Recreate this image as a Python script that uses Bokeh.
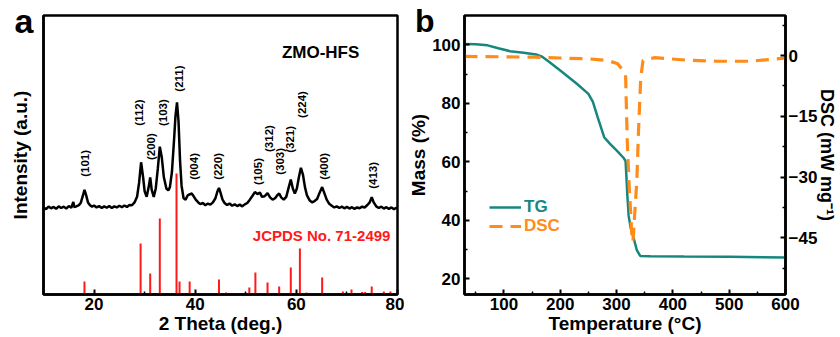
from math import pi
from bokeh.plotting import figure
from bokeh.models import Range1d, LinearAxis, FixedTicker, Label, Legend, LegendItem
from bokeh.layouts import row
from bokeh.embed import file_html
from bokeh.resources import INLINE
from bokeh.core.properties import value

# ---------------- data: panel a (XRD) ----------------
xrd_2theta = [10.0, 10.5, 11.0, 11.5, 12.0, 12.5, 13.0, 13.5, 14.0, 14.5, 15.0, 15.5, 15.9, 16.1,
              16.5, 17.0, 17.4, 17.8, 18.1, 18.4, 18.8, 19.2, 19.6, 20.0, 20.5, 21.0, 21.5, 22.0,
              22.5, 23.0, 23.5, 24.0, 24.5, 25.0, 25.5, 26.0, 26.5, 27.0, 27.5, 28.0, 28.5, 28.9,
              29.3, 29.7, 30.0, 30.4, 30.8, 31.1, 31.4, 31.8, 32.2, 32.6, 33.0, 33.4, 33.8, 34.3,
              34.7, 35.0, 35.4, 35.8, 36.1, 36.4, 36.7, 37.0, 37.3, 37.7, 38.1, 38.5, 39.0, 39.3,
              39.7, 40.1, 40.6, 41.0, 41.5, 42.0, 42.5, 43.0, 43.5, 44.0, 44.4, 44.7, 45.0, 45.4,
              45.8, 46.3, 46.8, 47.3, 47.8, 48.3, 48.8, 49.3, 49.8, 50.3, 50.8, 51.3, 51.8, 52.3,
              52.8, 53.2, 53.7, 54.3, 54.8, 55.3, 55.8, 56.2, 56.6, 57.0, 57.5, 58.0, 58.5, 58.9,
              59.3, 59.7, 60.1, 60.5, 60.9, 61.3, 61.7, 62.1, 62.6, 63.1, 63.6, 64.1, 64.6, 65.1,
              65.5, 66.0, 66.5, 67.0, 67.5, 68.0, 68.5, 69.0, 69.5, 70.0, 70.5, 71.0, 71.5, 72.0,
              72.5, 73.0, 73.5, 74.0, 74.5, 74.9, 75.3, 75.8, 76.3, 76.8, 77.3, 77.8, 78.3, 78.8,
              79.3, 79.8, 80.0]
xrd_intensity = [31.2, 30.6, 31.5, 30.9, 31.4, 30.7, 31.6, 31.0, 31.5, 30.8, 31.7, 31.1, 33.2, 31.3,
                 31.6, 32.0, 33.0, 35.5, 37.5, 35.8, 33.0, 32.0, 31.5, 31.9, 31.2, 31.7, 31.0, 31.6,
                 31.1, 31.7, 31.0, 31.6, 31.2, 31.8, 31.3, 31.9, 31.4, 32.1, 32.0, 33.0, 35.0, 40.0,
                 47.4, 42.0, 37.0, 35.0, 38.5, 42.0, 37.5, 35.0, 38.0, 45.0, 53.0, 49.0, 42.0, 38.0,
                 37.3, 38.5, 44.0, 55.0, 64.0, 68.9, 62.0, 48.0, 39.0, 34.5, 34.0, 35.5, 36.0, 36.2,
                 35.2, 34.0, 33.0, 32.4, 32.8, 32.0, 32.6, 32.2, 33.0, 34.5, 37.0, 38.2, 36.5, 34.0,
                 32.8, 32.1, 32.6, 31.8, 32.3, 31.7, 32.2, 31.6, 32.3, 32.8, 34.0, 35.3, 36.7, 36.0,
                 36.5, 35.0, 35.2, 36.3, 34.8, 34.0, 34.5, 35.5, 36.2, 34.8, 34.0, 35.0, 38.5, 41.2,
                 38.0, 36.2, 38.0, 42.0, 45.4, 43.0, 38.5, 35.5, 33.8, 33.0, 33.5, 34.2, 36.5, 38.5,
                 36.5, 34.0, 32.5, 31.8, 31.2, 31.6, 31.0, 31.5, 30.9, 31.4, 30.8, 31.3, 30.7, 31.2,
                 30.9, 31.5, 31.2, 32.0, 33.0, 34.9, 33.0, 31.6, 31.0, 31.5, 30.8, 31.3, 30.7, 31.2,
                 30.6, 31.1, 30.9]

ref_2theta = [18.1, 29.2, 31.1, 33.0, 36.3, 36.9, 38.9, 44.7, 46.1, 50.7, 51.9, 54.3, 56.6,
              58.9, 60.7, 62.0, 65.1, 69.2, 70.9, 73.0, 73.6, 74.9, 77.3, 78.6]
ref_intensity = [4.7, 18.3, 7.5, 27.2, 43.4, 4.7, 4.7, 5.4, 0.7, 2.5, 7.9, 4.3, 2.9,
                 9.7, 16.5, 0.7, 6.1, 1.1, 1.8, 0.9, 0.9, 2.9, 1.1, 1.1]

peak_labels = ["(101)", "(112)", "(200)", "(103)", "(211)", "(004)", "(220)",
               "(105)", "(312)", "(303)", "(321)", "(224)", "(400)", "(413)"]
peak_label_x = [18.3, 28.8, 31.2, 33.7, 36.7, 39.7, 44.6, 52.5, 54.5, 56.7, 58.8, 61.2, 65.4, 75.2]
peak_label_y = [47.0, 65.2, 53.0, 65.2, 77.4, 45.9, 45.9, 44.1, 55.9, 47.7, 55.6, 68.1, 45.9, 42.7]

xrd_ticks = [20, 40, 60, 80]

# ---------------- data: panel b (TG / DSC) ----------------
temp_tg = [30, 50, 71, 90, 111, 135, 157, 168, 180, 204, 230, 250, 258, 266, 278, 288, 300,
           313, 316, 317.5, 319, 321.5, 325, 330, 336, 342, 360, 420, 500, 600]
mass_tg = [100.3, 100.2, 99.8, 98.8, 97.8, 97.3, 96.7, 95.9, 94.2, 90.6, 86.6, 83.2, 80.5,
           75.5, 68.4, 66.2, 63.9, 61.2, 60.2, 55.0, 49.0, 41.5, 37.5, 34.2, 29.8, 27.8,
           27.7, 27.6, 27.5, 27.3]

temp_dsc = [30, 100, 157, 200, 250, 284, 302, 316, 319, 322, 327, 329, 330, 336, 339,
            343, 347, 368, 422, 480, 537, 600]
dsc_val = [-0.2, -0.3, -0.4, -0.6, -0.8, -1.2, -2.0, -4.5, -21.0, -31.0, -44.0, -46.0, -44.0,
           -31.0, -18.5, -5.4, -1.2, -0.5, -1.1, -1.4, -1.4, -0.6]

mass_ticks = [20, 40, 60, 80, 100]
dsc_ticks = [0, -15, -30, -45]
temp_ticks = [100, 200, 300, 400, 500, 600]

FONT = "Liberation Sans"
TEAL = "#16877f"
ORANGE = "#ff8c1a"
RED = "#ff1a1a"


def style_axis(ax, tick_size="17px", title_size="19px"):
    ax.axis_line_width = 2.5
    ax.axis_line_color = "black"
    ax.major_tick_in = 5
    ax.major_tick_out = 0
    ax.minor_tick_in = 3
    ax.minor_tick_out = 0
    ax.major_tick_line_width = 2
    ax.minor_tick_line_width = 1.5
    ax.major_label_text_font = FONT
    ax.major_label_text_font_style = "bold"
    ax.major_label_text_font_size = tick_size
    ax.major_label_text_color = "black"
    ax.axis_label_text_font = FONT
    ax.axis_label_text_font_style = "bold"
    ax.axis_label_text_font_size = title_size
    ax.axis_label_text_color = "black"


# ---------------- panel a ----------------
p1 = figure(width=404, height=337, x_range=Range1d(10, 80), y_range=Range1d(0, 100),
            output_backend="svg", toolbar_location=None,
            min_border_left=43, min_border_right=7, min_border_top=15, min_border_bottom=43)
p1.grid.visible = False
p1.outline_line_color = "black"
p1.outline_line_width = 2.5
p1.background_fill_color = "white"
p1.border_fill_color = "white"

p1.xaxis.ticker = FixedTicker(ticks=xrd_ticks, minor_ticks=[10, 30, 50, 70])
p1.xaxis.axis_label = "2 Theta (deg.)"
for ax in p1.xaxis:
    style_axis(ax)
    ax.major_label_standoff = 3
    ax.axis_label_standoff = 0

# left axis: no intensity ticks; its single label carries the panel letter
p1.yaxis.ticker = FixedTicker(ticks=[98])
p1.yaxis.major_label_overrides = {98: "a"}
p1.yaxis.axis_label = "Intensity (a.u.)"
for ax in p1.yaxis:
    style_axis(ax, tick_size="34px")
    ax.major_tick_line_color = None
    ax.minor_tick_line_color = None
    ax.major_label_standoff = 10
    ax.axis_label_standoff = -19

p1.segment(x0=ref_2theta, y0=[0] * len(ref_2theta), x1=ref_2theta, y1=ref_intensity,
           line_color=RED, line_width=2)
p1.line(xrd_2theta, xrd_intensity, line_color="black", line_width=2.5)
p1.text(x=peak_label_x, y=peak_label_y, text=peak_labels, angle=pi / 2,
        text_align="center", text_baseline="middle", text_font=value(FONT),
        text_font_style="bold", text_font_size="11.5px", text_color="black")
p1.add_layout(Label(x=64.8, y=86.8, text="ZMO-HFS", text_align="center", text_baseline="middle",
                    text_font=FONT, text_font_style="bold", text_font_size="17px",
                    text_color="black"))
p1.add_layout(Label(x=78.6, y=21.1, text="JCPDS No. 71-2499", text_align="right",
                    text_baseline="middle", text_font=FONT, text_font_style="bold",
                    text_font_size="15px", text_color=RED))

# ---------------- panel b ----------------
p2 = figure(width=436, height=337, x_range=Range1d(30, 600), y_range=Range1d(14.63, 110),
            output_backend="svg", toolbar_location=None,
            min_border_left=54, min_border_right=45, min_border_top=15, min_border_bottom=43)
p2.grid.visible = False
p2.outline_line_color = "black"
p2.outline_line_width = 2.5
p2.background_fill_color = "white"
p2.border_fill_color = "white"
p2.extra_y_ranges = {"dsc": Range1d(-59, 9.9)}

p2.xaxis.ticker = FixedTicker(ticks=temp_ticks, minor_ticks=[50, 150, 250, 350, 450, 550])
p2.xaxis.axis_label = "Temperature (°C)"
for ax in p2.xaxis:
    style_axis(ax)
    ax.major_label_standoff = 3
    ax.axis_label_standoff = 0

p2.yaxis.ticker = FixedTicker(ticks=mass_ticks, minor_ticks=[30, 50, 70, 90])
for ax in p2.yaxis:
    style_axis(ax)
    ax.major_label_standoff = 4

# outer left axis: carries the "Mass (%)" title and the panel letter
outer_ax = LinearAxis(ticker=FixedTicker(ticks=[108]), major_label_overrides={108: "b"},
                      axis_label="Mass (%)")
style_axis(outer_ax, tick_size="32px")
outer_ax.axis_line_color = None
outer_ax.major_tick_line_color = None
outer_ax.minor_tick_line_color = None
outer_ax.major_label_standoff = -5
outer_ax.axis_label_standoff = -17
p2.add_layout(outer_ax, "left")

right_ax = LinearAxis(y_range_name="dsc", axis_label="DSC (mW mg⁻¹)",
                      ticker=FixedTicker(ticks=dsc_ticks, minor_ticks=[-52.5, -37.5, -22.5, -7.5, 7.5]))
style_axis(right_ax, title_size="18px")
right_ax.major_label_standoff = 3
right_ax.axis_label_standoff = -3
p2.add_layout(right_ax, "right")

tg = p2.line(temp_tg, mass_tg, line_color=TEAL, line_width=2.5)
dsc = p2.line(temp_dsc, dsc_val, y_range_name="dsc", line_color=ORANGE, line_width=3.2,
              line_dash="13 8")

for item, col, loc in ((LegendItem(label="TG", renderers=[tg]), TEAL, (25, 77)),
                       (LegendItem(label="DSC", renderers=[dsc]), ORANGE, (25, 58))):
    leg = Legend(items=[item], location=loc, padding=0, margin=0, spacing=0,
                 glyph_width=32, glyph_height=16, label_height=16, label_standoff=3,
                 border_line_color=None, background_fill_alpha=0,
                 label_text_font=FONT, label_text_font_style="bold",
                 label_text_font_size="17px", label_text_color=col)
    p2.add_layout(leg, "center")

layout = row(p1, p2)
open("out.html", "w").write(file_html(layout, INLINE))
